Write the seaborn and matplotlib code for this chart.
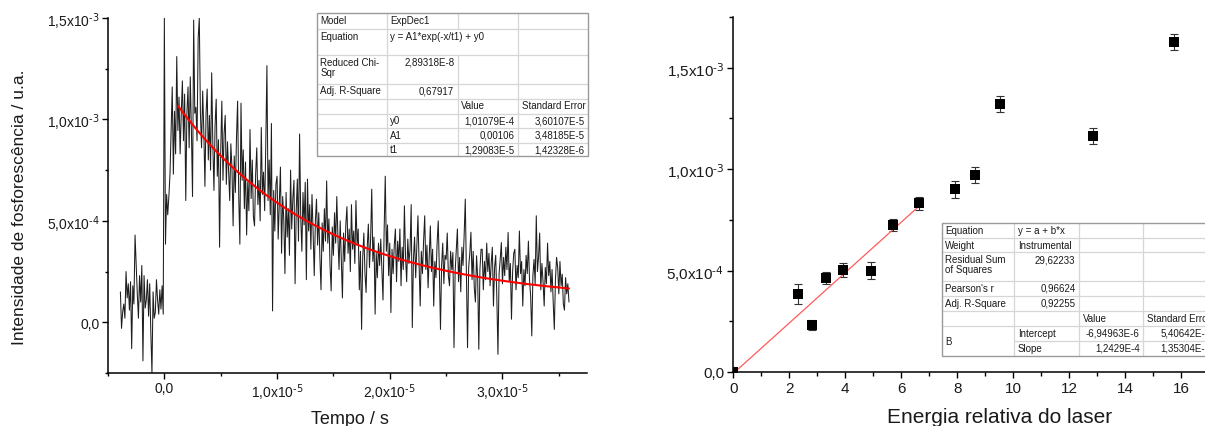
import numpy as np
import pandas as pd
import matplotlib
matplotlib.use("Agg")
import matplotlib.pyplot as plt
import seaborn as sns
from matplotlib.ticker import MultipleLocator, FuncFormatter

# ---------------- data ----------------
# Left panel: phosphorescence decay trace, sampled every 0.1 us from -3.9 us
trace_t0_us = -3.9
trace_dt_us = 0.1
# intensities in units of 1e-4 (a.u.)
pre_trigger = [1.5, -0.3, 0.5, 0.9, 0.2, 2.5, 1.2, 1.9, 0.6, 2.0,
               -1.3, 1.8, 0.9, 4.3, 2.8, 1.4, 0.2, 2.3, 1.0, 2.8,
               -1.9, 2.3, 0.7, 1.1, 2.1, 0.3, 1.9, -0.5, -2.5, 1.5,
               0.2, 0.5, 2.1, 1.1, 0.4, 1.6, 0.65, 1.8, 0.4]
trigger = [15.0]
rise = [3.85, 6.3, 5.3, 6.2, 7.3, 9.45, 11.6, 7.3, 10.4, 8.3,
        13.1, 9.45, 11.1, 8.3, 10.3, 11.9, 8.95, 11.25, 6.0, 10.3,
        11.6, 8.6, 12.1, 9.45, 6.2, 14.9, 10.3, 10.6, 8.95, 14.0,
        15.0, 10.3, 8.6, 11.4, 9.45, 6.7, 10.3]
decay_a = [11.5, 8.0, 10.2, 7.5, 12.3, 8.8, 6.5, 9.7, 11.0, 7.2,
           9.0, 3.7, 8.4, 10.9, 7.0, 9.3, 10.2, 6.8, 8.9, 7.4,
           6.0, 8.8, 7.6, 4.75, 8.2, 6.4, 9.1, 10.9, 6.2, 3.85,
           10.8, 7.0, 8.5, 5.6, 7.9, 4.3, 6.9, 5.5, 9.5, 6.1,
           8.0, 5.2, 4.75, 7.3, 8.6, 5.8, 7.0, 5.0, 9.6, 6.3,
           7.4, 5.5, 8.8, 12.65, 6.0, 8.0, 5.3, 9.8, 0.56, 6.5,
           4.5, 6.8, 7.2, 4.1, 5.9, 7.65, 3.4, 6.2, 5.0, 2.4,
           6.4, 4.2, 5.6, 3.3, 7.5, 4.6, 6.1, 7.0]
decay_b = [1.9, 5.5, 7.06, 4.0, 9.28, 5.2, 3.5, 6.4, 4.8, 6.9,
           2.1, 7.06, 4.5, 5.8, 3.6, 6.3, 4.4, 2.3, 5.0, 6.07,
           3.8, 5.4, 3.2, 1.6, 4.9, 3.5, 5.6, 4.0, 6.97, 3.9,
           5.1, 2.8, 1.55, 4.7, 3.3, 5.4, 3.9, 6.2, 4.2, 2.6,
           5.0, 3.1, 1.2, 4.4, 3.0, 4.8, 5.7, 3.4, 4.6, 2.5,
           5.8, 3.6, 4.5, 2.9, 6.0, 3.8, 4.6, 1.6, 3.5, -0.35,
           3.2, 4.4, 2.4, 1.47, 3.7, 4.84, 2.7, 4.1, 6.56, 3.0,
           4.2, 0.4, 3.4, 2.2, 3.9, 2.8, 4.1, 2.6, 1.1, 4.5]
decay_c = [7.2, 3.5, 4.8, 2.3, 3.9, 0.48, 3.6, 2.4, 3.8, 4.6,
           2.0, 4.0, 3.0, 4.6, 1.8, 3.7, 2.6, 5.74, 3.2, 2.0,
           4.1, 2.9, 3.6, 5.8, -0.26, 3.1, 4.2, 2.2, 3.7, 5.25,
           2.9, 0.8, 3.5, 2.4, 4.0, 5.25, 2.6, 3.8, 1.7, 3.3,
           4.75, 2.5, 3.6, 0.8, 3.0, 2.2, 3.9, 5.0, 2.6, -0.35,
           2.8, 3.9, 1.9, 3.3, 3.1, 4.4, 2.3, 1.8, 3.5, 2.6,
           3.44, -1.25, 2.5, 3.6, 4.6, 2.0, 3.2, 1.5, 3.7, 2.8,
           4.3, 6.07, 2.4, -1.25, 2.7, 3.4, 4.44, 2.1, 3.5, 1.7]
decay_d = [1.0, 3.28, 2.2, -1.33, 2.6, 3.6, 3.6, 1.6, 3.0, 2.1,
           3.9, 2.5, 3.4, 1.8, 2.9, 3.7, 0.8, 2.7, 3.3, 1.2,
           -1.58, 2.4, 3.1, 3.93, 1.9, 3.2, 2.3, 3.7, 2.6, 4.43,
           2.0, 2.9, 0.15, 2.5, 3.4, 3.6, 1.6, 2.8, 2.2, 4.5,
           2.4, 3.0, 0.8, 2.6, 1.8, 3.3, 2.4, 4.0, 2.1, 1.3,
           -0.67, 2.3, 3.1, 1.9, 5.25, 2.5, 3.2, 4.4, 1.6, 2.9,
           2.0, 0.8, 2.7, 1.9, 3.9, 2.3, 3.0, 1.5, 2.6, 1.0,
           -0.35, 2.1, 3.2, 2.7, 1.4, 3.0, 1.8, 2.37, 0.9, 0.6,
           2.2, 1.4, 1.9, 1.0]

# ExpDec1 fit parameters (from the table)
fit_y0 = 1.01079e-4
fit_A1 = 0.00106
fit_t1 = 1.29083e-5
fit_t_start = 1.2e-6
fit_t_end = 3.59e-5

# Right panel: intensity vs relative laser energy
energy = [0.0, 2.31, 2.81, 3.31, 3.9, 4.92, 5.71, 6.62, 7.93, 8.63, 9.54, 12.85, 15.75]
intensity_1e4 = [0.0, 3.85, 2.33, 4.64, 5.03, 5.0, 7.26, 8.33, 9.0, 9.71, 13.23, 11.63, 16.27]
error_1e4 = [0.25, 0.5, 0.25, 0.3, 0.35, 0.4, 0.3, 0.32, 0.44, 0.41, 0.4, 0.4, 0.4]
lin_intercept = -6.94963e-6
lin_slope = 1.2429e-4
lin_x_end = 6.62

# ---------------- style ----------------
sns.set_style("ticks")
plt.rcParams["font.family"] = ["Liberation Sans", "DejaVu Sans"]
plt.rcParams["mathtext.default"] = "regular"

W, H = 1205, 427
fig = plt.figure(figsize=(W / 100, H / 100), dpi=100)


def px_rect(x0, y0, x1, y1):
    return [x0 / W, 1 - y1 / H, (x1 - x0) / W, (y1 - y0) / H]


def sci_comma(v, pos):
    if abs(v) < 1e-15:
        return "0,0"
    e = int(np.floor(np.log10(abs(v)) + 1e-9))
    m = v / 10 ** e
    return f"{m:.1f}".replace(".", ",") + "x10$^{\\text{" + str(e) + "}}$"


def style_axes(ax, lab_size, maj_len, min_len):
    sns.despine(ax=ax)
    for s in ("left", "bottom"):
        ax.spines[s].set_linewidth(1.1)
        ax.spines[s].set_color("black")
    ax.tick_params(which="major", direction="out", length=maj_len, width=1.0,
                   labelsize=lab_size, pad=2, colors="black", labelcolor="#1a1a1a")
    ax.tick_params(which="minor", direction="out", length=min_len, width=1.0, colors="black")


# ---------------- left panel ----------------
ax1 = fig.add_axes(px_rect(108, 19, 587, 374))
signal = np.array(pre_trigger + trigger + rise + decay_a + decay_b + decay_c + decay_d) * 1e-4
time = (trace_t0_us + trace_dt_us * np.arange(len(signal))) * 1e-6
df_trace = pd.DataFrame({"t": time, "I": signal})
sns.lineplot(data=df_trace, x="t", y="I", ax=ax1, color="#1e1e1e", lw=0.75,
             estimator=None, sort=False)

tf = np.linspace(fit_t_start, fit_t_end, 300)
df_fit = pd.DataFrame({"t": tf, "I": fit_A1 * np.exp(-tf / fit_t1) + fit_y0})
sns.lineplot(data=df_fit, x="t", y="I", ax=ax1, color="#ff0000", lw=1.5)

ax1.set_xlim(-5.0e-6, 3.75e-5)
ax1.set_ylim(-2.5e-4, 1.5e-3)
ax1.xaxis.set_major_locator(MultipleLocator(1e-5))
ax1.xaxis.set_minor_locator(MultipleLocator(5e-6))
ax1.yaxis.set_major_locator(MultipleLocator(5e-4))
ax1.yaxis.set_minor_locator(MultipleLocator(2.5e-4))
ax1.xaxis.set_major_formatter(FuncFormatter(sci_comma))
ax1.yaxis.set_major_formatter(FuncFormatter(sci_comma))
style_axes(ax1, 10, 4, 2.5)
ax1.set_xlabel("Tempo / s", fontsize=13, color="#1a1a1a")
ax1.set_ylabel("Intensidade de fosforescência / u.a.", fontsize=12.5, color="#1a1a1a")
ax1.xaxis.set_label_coords(0.505, -0.105)
ax1.yaxis.set_label_coords(-0.17, 0.47)

# ---------------- right panel ----------------
ax2 = fig.add_axes(px_rect(733.3, 18, 733.3 + 19 * 28, 373))
inten = np.array(intensity_1e4) * 1e-4
errs = np.array(error_1e4) * 1e-4
df_pts = pd.DataFrame({"E": energy, "I": inten})
ax2.errorbar(energy, inten, yerr=errs, fmt="none", ecolor="#333333",
             elinewidth=0.8, capsize=3.2, capthick=0.8, zorder=2)
sns.scatterplot(data=df_pts, x="E", y="I", ax=ax2, marker="s", s=62,
                color="black", edgecolor="black", linewidth=0, zorder=3)
xf = np.linspace(0, lin_x_end, 50)
df_lin = pd.DataFrame({"E": xf, "I": lin_intercept + lin_slope * xf})
sns.lineplot(data=df_lin, x="E", y="I", ax=ax2, color="#ff5a5a", lw=0.9)

ax2.set_xlim(0, 19)
ax2.set_ylim(0, 1.75e-3)
ax2.xaxis.set_major_locator(MultipleLocator(2))
ax2.xaxis.set_minor_locator(MultipleLocator(1))
ax2.yaxis.set_major_locator(MultipleLocator(5e-4))
ax2.yaxis.set_minor_locator(MultipleLocator(2.5e-4))
ax2.yaxis.set_major_formatter(FuncFormatter(sci_comma))
style_axes(ax2, 11, 4.5, 2.8)
ax2.set_xlabel("Energia relativa do laser", fontsize=15, color="#1a1a1a")
ax2.set_ylabel("")
ax2.xaxis.set_label_coords(0.5, -0.098)


# ---------------- fit tables ----------------
def draw_table(col_edges, row_edges, cells, vskip=(), hskip=(), fs=7):
    x0, x1 = col_edges[0], col_edges[-1]
    y0, y1 = row_edges[0], row_edges[-1]
    tax = fig.add_axes(px_rect(x0, y0, x1, y1), zorder=5)
    tax.set_xlim(x0, x1)
    tax.set_ylim(y1, y0)
    tax.set_axis_off()
    tax.add_patch(plt.Rectangle((x0, y0), x1 - x0, y1 - y0, facecolor="white",
                                edgecolor="none", zorder=0))
    ncol = len(col_edges) - 1
    nrow = len(row_edges) - 1
    inner = "#d6d6d6"
    for i in range(1, nrow):
        for c in range(ncol):
            if (i, c) in hskip:
                continue
            tax.plot([col_edges[c], col_edges[c + 1]], [row_edges[i]] * 2,
                     color=inner, lw=0.9, zorder=1, solid_capstyle="butt")
    for j in range(1, ncol):
        for r in range(nrow):
            if (r, j) in vskip:
                continue
            tax.plot([col_edges[j]] * 2, [row_edges[r], row_edges[r + 1]],
                     color=inner, lw=0.9, zorder=1, solid_capstyle="butt")
    tax.add_patch(plt.Rectangle((x0, y0), x1 - x0, y1 - y0, facecolor="none",
                                edgecolor="#9a9a9a", lw=1.0, zorder=2, clip_on=False))
    for cell in cells:
        r, c, txt, al = cell[:4]
        rspan = cell[4] if len(cell) > 4 else 1
        if al == "l":
            x, ha = col_edges[c] + 3.5, "left"
        else:
            x, ha = col_edges[c + 1] - 3.5, "right"
        if rspan > 1:
            y = (row_edges[r] + row_edges[r + rspan]) / 2
            va = "center"
        else:
            y = row_edges[r] + 2.0
            va = "top"
        tax.text(x, y, txt, ha=ha, va=va, fontsize=fs, color="#1a1a1a",
                 linespacing=1.0, zorder=3)


left_cols = [316.7, 386.5, 457.7, 518.3, 588.3]
left_rows = [14, 29.5, 56, 84.5, 99.5, 114.5, 129, 143.5, 157]
left_cells = [
    (0, 0, "Model", "l"), (0, 1, "ExpDec1", "l"),
    (1, 0, "Equation", "l"), (1, 1, "y = A1*exp(-x/t1) + y0", "l"),
    (2, 0, "Reduced Chi-\nSqr", "l"), (2, 1, "2,89318E-8", "r"),
    (3, 0, "Adj. R-Square", "l"), (3, 1, "0,67917", "r"),
    (4, 2, "Value", "l"), (4, 3, "Standard Error", "l"),
    (5, 1, "y0", "l"), (5, 2, "1,01079E-4", "r"), (5, 3, "3,60107E-5", "r"),
    (6, 1, "A1", "l"), (6, 2, "0,00106", "r"), (6, 3, "3,48185E-5", "r"),
    (7, 1, "t1", "l"), (7, 2, "1,29083E-5", "r"), (7, 3, "1,42328E-6", "r"),
]
draw_table(left_cols, left_rows, left_cells, vskip={(1, 2)})

right_cols = [941.7, 1014.3, 1079, 1143.3, 1214]
right_rows = [224, 239, 253.3, 281.7, 296.7, 311.7, 326.7, 341.7, 356.7]
right_cells = [
    (0, 0, "Equation", "l"), (0, 1, "y = a + b*x", "l"),
    (1, 0, "Weight", "l"), (1, 1, "Instrumental", "l"),
    (2, 0, "Residual Sum\nof Squares", "l"), (2, 1, "29,62233", "r"),
    (3, 0, "Pearson's r", "l"), (3, 1, "0,96624", "r"),
    (4, 0, "Adj. R-Square", "l"), (4, 1, "0,92255", "r"),
    (5, 2, "Value", "l"), (5, 3, "Standard Error", "l"),
    (6, 0, "B", "l", 2),
    (6, 1, "Intercept", "l"), (6, 2, "-6,94963E-6", "r"), (6, 3, "5,40642E-6", "r"),
    (7, 1, "Slope", "l"), (7, 2, "1,2429E-4", "r"), (7, 3, "1,35304E-5", "r"),
]
draw_table(right_cols, right_rows, right_cells, hskip={(7, 0)})

fig.savefig("out.png", dpi=100)
